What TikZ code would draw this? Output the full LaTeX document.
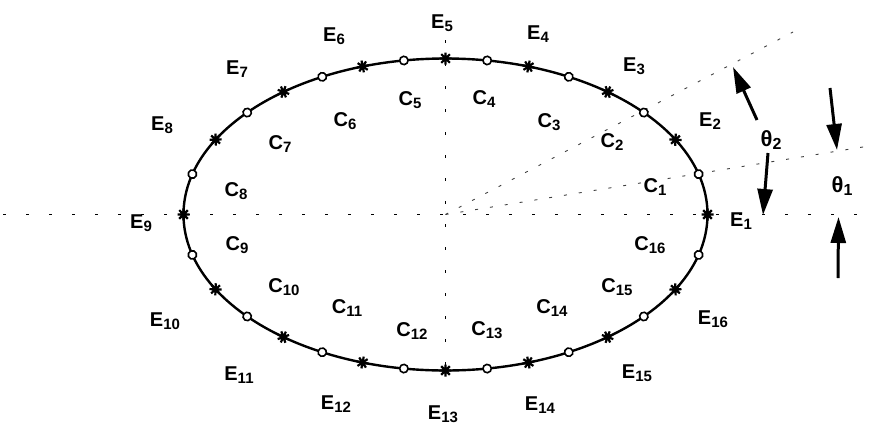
\documentclass[tikz,border=0pt]{standalone}
\usepackage{fontspec}
\setmainfont{Liberation Sans}
\usetikzlibrary{decorations.markings,arrows.meta}
\newcommand{\subn}[1]{\raisebox{-2.5pt}{\fontsize{15}{15}\selectfont #1}}
\newcommand{\subth}[1]{\raisebox{-3pt}{\fontsize{16}{16}\selectfont #1}}
\newcommand{\El}[1]{E\subn{#1}}
\newcommand{\Cl}[1]{C\subn{#1}}
\begin{document}
\begin{tikzpicture}[x=1pt,y=-1pt,
  lab/.style={font=\fontsize{20}{21}\selectfont\bfseries, inner sep=0pt},
  thlab/.style={font=\fontsize{22}{23}\selectfont\bfseries, inner sep=0pt},
  axisline/.style={line width=1.4pt, dash pattern=on 3pt off 20pt},
  rayline/.style={line width=0.9pt, dash pattern=on 3pt off 12pt, black!75},
  arr/.style={line width=3pt, -{Triangle[length=26pt,width=15pt]}},
  curve/.style={line width=2.4pt},
  starmark/.style={line width=2.2pt},
  circmark/.style={line width=1.6pt, fill=white},
]
\useasboundingbox (0,0) rectangle (869,426);
\coordinate (O) at (445.5,214.5);
% reference lines
\coordinate (hl) at (3,214.5);
\coordinate (hr) at (866,214.5);
\coordinate (vt) at (445.5,40);
\coordinate (vb) at (445.5,370);
\coordinate (r1) at (869,146);
\coordinate (r2) at (793,32);
\draw[axisline] (hl) -- (hr);
\draw[axisline] (vt) -- (vb);
\draw[rayline] (O) -- (r1);
\draw[rayline] (O) -- (r2);
% ellipse with markers
\path[draw, curve,
  postaction={decorate, decoration={markings,
    mark=between positions 0 and 0.99 step 0.0625 with {
      \draw[starmark] (-6,0) -- (6,0) (0,-6) -- (0,6)
        (-4.3,-4.3) -- (4.3,4.3) (-4.3,4.3) -- (4.3,-4.3);}}},
  postaction={decorate, decoration={markings,
    mark=between positions 0.03125 and 0.99 step 0.0625 with {
      \draw[circmark] (0,0) circle (4.2);}}}
  ] (O) ellipse (262 and 156);
% E labels
\foreach \i/\x/\y in {1/741/221, 2/710/121, 3/634/66, 4/538/34, 5/442/23,
  6/334/36, 7/237/69, 8/162/125, 9/141/223, 10/165/321, 11/239/375,
  12/336/404, 13/443/414, 14/540/405, 15/637/373, 16/713/319}
  \node[lab] (e\i) at (\x,\y) {\El{\i}};
% C labels
\foreach \i/\x/\y in {1/655/187, 2/612/142, 3/549/122, 4/484/99, 5/410/100,
  6/345/121, 7/280/144, 8/236/191, 9/237/245, 10/284/287, 11/347/308,
  12/412/331, 13/487/330, 14/552/308, 15/617/287, 16/650/245}
  \node[lab] (c\i) at (\x,\y) {\Cl{\i}};
% theta labels
\node[thlab] (th2) at (771,140) {θ\subth{2}};
\node[thlab] (th1) at (842,186) {θ\subth{1}};
% arrows
\coordinate (a2ut) at (757,120);
\coordinate (a2uh) at (733,67);
\coordinate (a2dt) at (768,153);
\coordinate (a2dh) at (763,215);
\coordinate (a1tt) at (830,88);
\coordinate (a1th) at (837,150);
\coordinate (a1bt) at (838,278);
\coordinate (a1bh) at (838.5,217);
\draw[arr] (a2ut) -- (a2uh);
\draw[arr] (a2dt) -- (a2dh);
\draw[arr] (a1tt) -- (a1th);
\draw[arr] (a1bt) -- (a1bh);
\end{tikzpicture}
\end{document}
